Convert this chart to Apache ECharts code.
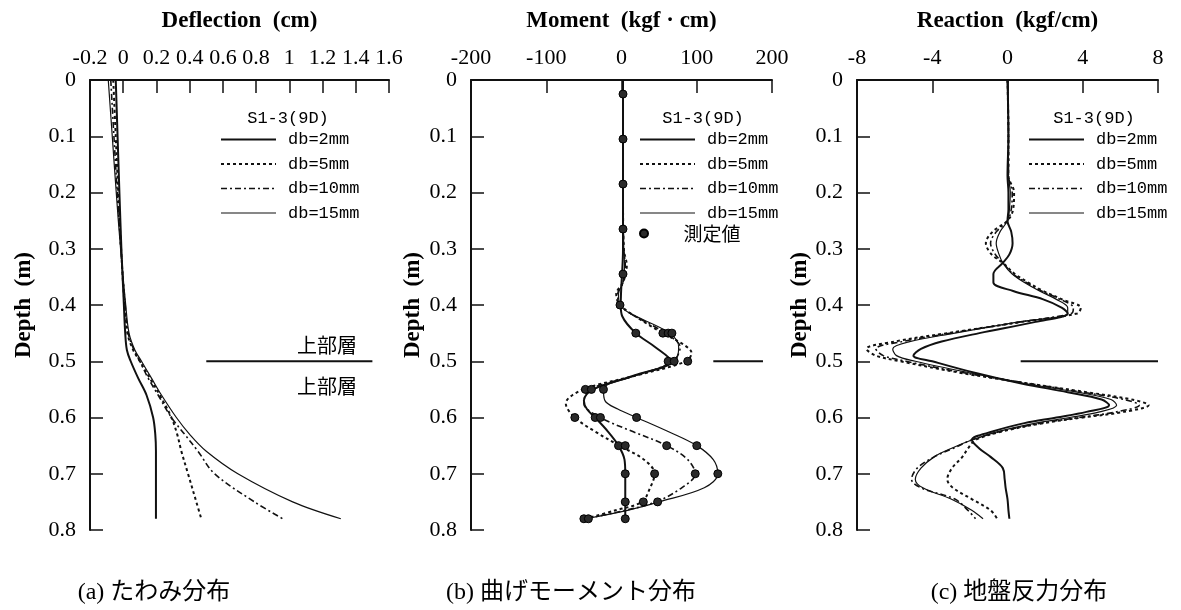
<!DOCTYPE html>
<html><head><meta charset="utf-8">
<script src="https://cdn.jsdelivr.net/npm/echarts@6/dist/echarts.min.js"></script>
<style>html,body{margin:0;padding:0;background:#fff}#c{width:1181px;height:610px}</style>
</head><body><div id="c"></div>
<script>
// ---------- common ----------
const seriesNames = ['db=2mm', 'db=5mm', 'db=10mm', 'db=15mm'];
const depthTicks = [0, 0.1, 0.2, 0.3, 0.4, 0.5, 0.6, 0.7, 0.8];

// ---------- (a) deflection (cm) ----------
const defDepth = [0, 0.1, 0.2, 0.3, 0.4, 0.45, 0.48, 0.5, 0.53, 0.56, 0.6, 0.63, 0.66, 0.7, 0.75, 0.78];
const def2  = [-0.045, -0.034, -0.023, -0.011, 0.004, 0.012, 0.022, 0.045, 0.09, 0.14, 0.18, 0.193, 0.197, 0.197, 0.197, 0.197];
const def5  = [-0.06, -0.045, -0.03, -0.013, 0.008, 0.025, 0.06, 0.1, 0.16, 0.22, 0.29, 0.325, 0.35, 0.39, 0.44, 0.47];
const def10 = [-0.075, -0.056, -0.036, -0.014, 0.012, 0.03, 0.065, 0.1, 0.15, 0.21, 0.29, 0.37, 0.45, 0.55, 0.79, 0.96];
const def15 = [-0.09, -0.066, -0.042, -0.016, 0.015, 0.035, 0.07, 0.11, 0.17, 0.23, 0.32, 0.4, 0.5, 0.69, 1.02, 1.31];

// ---------- (b) moment (kgf·cm) ----------
const momDepth2  = [0, 0.1, 0.2, 0.3, 0.4, 0.42, 0.45, 0.475, 0.5, 0.525, 0.55, 0.57, 0.585, 0.6, 0.625, 0.65, 0.675, 0.7, 0.75, 0.78];
const mom2       = [2, 2, 2, 2, -1, 1, 19, 45, 66, 18, -38, -50, -46, -35, -18, -4, 4, 5, 5, 5];
const momDepth5  = [0, 0.1, 0.2, 0.3, 0.33, 0.36, 0.38, 0.4, 0.43, 0.45, 0.47, 0.485, 0.5, 0.525, 0.545, 0.56, 0.575, 0.6, 0.625, 0.65, 0.675, 0.7, 0.725, 0.75, 0.765, 0.78];
const mom5       = [2, 2, 2, 3, 7, 2, -7, -2, 30, 55, 82, 93, 86, 20, -40, -65, -74, -62, -35, -3, 30, 44, 38, 27, -8, -48];
const momDepth10 = [0, 0.1, 0.2, 0.3, 0.33, 0.36, 0.38, 0.4, 0.45, 0.475, 0.5, 0.525, 0.55, 0.575, 0.6, 0.625, 0.65, 0.675, 0.7, 0.725, 0.75, 0.765, 0.78];
const mom10      = [2, 2, 2, 3, 5, 2, -5, -2, 58, 78, 68, 20, -42, -50, -28, 15, 60, 88, 98, 80, 46, 5, -48];
const momDepth15 = [0, 0.1, 0.2, 0.3, 0.33, 0.36, 0.38, 0.4, 0.45, 0.475, 0.5, 0.525, 0.55, 0.57, 0.585, 0.6, 0.625, 0.65, 0.675, 0.7, 0.725, 0.75, 0.765, 0.78];
const mom15      = [2, 2, 2, 3, 4, 2, -4, -2, 64, 76, 70, 20, -24, -22, -5, 20, 62, 100, 122, 128, 110, 50, 8, -48];
// measured values (測定値)
const measDepth = [0.025, 0.105, 0.185, 0.265, 0.345, 0.4, 0.45, 0.45, 0.45, 0.45, 0.5, 0.5, 0.5, 0.55, 0.55, 0.55, 0.6, 0.6, 0.6, 0.6, 0.65, 0.65, 0.65, 0.65, 0.7, 0.7, 0.7, 0.7, 0.75, 0.75, 0.75, 0.78, 0.78, 0.78];
const measMom   = [2, 2, 2, 2, 2, -2, 19, 55, 62, 67, 62, 70, 88, -48, -40, -24, -62, -35, -28, 20, -4, 5, 60, 100, 5, 44, 98, 128, 5, 29, 48, -50, -44, 5];

// ---------- (c) reaction (kgf/cm) ----------
const reaDepth = [0, 0.1, 0.17, 0.2, 0.23, 0.25, 0.27, 0.29, 0.31, 0.325, 0.345, 0.36, 0.375, 0.39, 0.405, 0.415, 0.43, 0.45, 0.465, 0.478, 0.49, 0.5, 0.52, 0.54, 0.555, 0.568, 0.578, 0.59, 0.6, 0.61, 0.625, 0.64, 0.655, 0.67, 0.69, 0.71, 0.725, 0.745, 0.765, 0.78];
const rea2  = [0, 0.05, 0, 0.05, 0.05, 0, 0.2, 0.27, 0.1, -0.25, -0.75, -0.75, 0.3, 1.9, 2.9, 3.2, 1.5, -1.5, -3.5, -4.6, -5.0, -4.0, -1.8, 0.8, 3.2, 5.0, 5.4, 4.2, 2.6, 0.9, -0.8, -1.9, -1.5, -0.9, -0.25, -0.15, -0.1, 0, 0.05, 0.1];
const rea5  = [0, 0.05, 0.05, 0.35, 0.3, 0, -0.8, -1.15, -0.85, -0.25, 0.4, 1.1, 1.9, 2.9, 3.9, 3.7, 0.8, -3.2, -6.0, -7.5, -7.0, -5.7, -2.6, 1.2, 4.2, 6.6, 7.5, 6.2, 4.0, 1.9, -0.3, -1.7, -2.1, -2.4, -2.95, -3.2, -2.9, -1.9, -0.9, -0.55];
const rea10 = [0, 0.05, 0.05, 0.25, 0.2, 0, -0.6, -0.9, -0.65, -0.25, 0.3, 1.0, 1.8, 2.8, 3.5, 3.4, 0.7, -3.0, -5.6, -7.0, -6.6, -5.4, -2.4, 1.2, 4.0, 6.2, 7.0, 5.8, 3.8, 1.8, -0.4, -1.9, -2.9, -3.9, -4.8, -5.1, -4.6, -2.8, -2.1, -1.7];
const rea15 = [0, 0.05, 0.05, 0.15, 0.1, 0, -0.4, -0.6, -0.45, -0.25, 0.25, 0.9, 1.7, 2.6, 3.2, 3.2, 0.6, -2.8, -5.2, -6.1, -5.9, -4.9, -2.1, 1.0, 3.7, 5.5, 5.8, 4.9, 3.3, 1.5, -0.5, -1.9, -3.0, -3.9, -4.6, -4.9, -4.5, -3.0, -1.9, -1.3];

// layer boundary (depth 0.5)
const boundaryDepth = 0.5;
const boundaryA = [0.5, 1.5];
const boundaryB = [122, 188];
const boundaryC = [0.7, 8];

// ---------- build ----------
const pairs = (xs, ds) => xs.map((v, i) => [v, ds[i]]);
const lineStyles = {
  'db=2mm':  { type: 'solid', width: 2 },
  'db=5mm':  { type: [3, 3], width: 2 },
  'db=10mm': { type: [6, 3, 2, 3], width: 1.6 },
  'db=15mm': { type: 'solid', width: 1.2 }
};
const INK = '#111';
const serif = '"Liberation Serif", "DejaVu Serif", serif';
const mono = '"Liberation Mono", "DejaVu Sans Mono", monospace';
const cjk = '"Liberation Serif", "Noto Sans CJK JP", sans-serif';

function curve(name, idx, xs, ds) {
  return {
    name, type: 'line', xAxisIndex: idx, yAxisIndex: idx,
    data: pairs(xs, ds), symbol: 'none', smooth: 0.35,
    lineStyle: Object.assign({ color: INK }, lineStyles[name]),
    itemStyle: { color: INK }, silent: true, z: 3
  };
}
function boundary(idx, xs) {
  return {
    name: 'boundary', type: 'line', xAxisIndex: idx, yAxisIndex: idx,
    data: xs.map(v => [v, boundaryDepth]), symbol: 'none',
    lineStyle: { color: INK, width: 2 }, silent: true
  };
}

const grids = [
  { left: 90, top: 80, width: 299, height: 450 },
  { left: 471, top: 80, width: 301, height: 450 },
  { left: 857, top: 80, width: 301, height: 450 }
];
const xDefs = [
  { min: -0.2, max: 1.6, interval: 0.2, name: 'Deflection  (cm)' },
  { min: -200, max: 200, interval: 100, name: 'Moment  (kgf · cm)' },
  { min: -8, max: 8, interval: 4, name: 'Reaction  (kgf/cm)' }
];
const yNameGaps = [54, 46, 44];

const xAxes = xDefs.map((d, i) => ({
  type: 'value', gridIndex: i, position: 'top', min: d.min, max: d.max, interval: d.interval,
  name: d.name, nameLocation: 'middle', nameGap: 47,
  nameTextStyle: { fontFamily: serif, fontWeight: 'bold', fontSize: 23, color: '#000' },
  axisLine: { show: true, onZero: false, lineStyle: { color: INK, width: 2 } },
  axisTick: { show: true, inside: true, length: 13, lineStyle: { color: INK, width: 1.5 } },
  axisLabel: { fontFamily: serif, fontSize: 22, color: '#000', margin: 11 },
  splitLine: { show: false }
}));
const yAxes = [0, 1, 2].map(i => ({
  type: 'value', gridIndex: i, inverse: true, min: 0, max: 0.8, interval: 0.1,
  name: 'Depth  (m)', nameLocation: 'middle', nameGap: yNameGaps[i], nameRotate: 90,
  nameTextStyle: { fontFamily: serif, fontWeight: 'bold', fontSize: 23, color: '#000' },
  axisLine: { show: true, onZero: false, lineStyle: { color: INK, width: 2 } },
  axisTick: { show: true, inside: true, length: 13, lineStyle: { color: INK, width: 1.5 } },
  axisLabel: { fontFamily: serif, fontSize: 22, color: '#000', margin: 14 },
  splitLine: { show: false }
}));

const series = [
  curve('db=2mm', 0, def2, defDepth),
  curve('db=5mm', 0, def5, defDepth),
  curve('db=10mm', 0, def10, defDepth),
  curve('db=15mm', 0, def15, defDepth),
  boundary(0, boundaryA),
  curve('db=2mm', 1, mom2, momDepth2),
  curve('db=5mm', 1, mom5, momDepth5),
  curve('db=10mm', 1, mom10, momDepth10),
  curve('db=15mm', 1, mom15, momDepth15),
  {
    name: '測定値', type: 'scatter', xAxisIndex: 1, yAxisIndex: 1,
    data: pairs(measMom, measDepth), symbol: 'circle', symbolSize: 8,
    itemStyle: { color: '#2a2a2a', borderColor: '#000', borderWidth: 1, opacity: 1 }, z: 5, silent: true
  },
  boundary(1, boundaryB),
  curve('db=2mm', 2, rea2, reaDepth),
  curve('db=5mm', 2, rea5, reaDepth),
  curve('db=10mm', 2, rea10, reaDepth),
  curve('db=15mm', 2, rea15, reaDepth),
  boundary(2, boundaryC)
];

function legendAt(left, top, names, opts) {
  return Object.assign({
    data: names, left, top, orient: 'vertical', padding: 0,
    itemWidth: 55, itemHeight: 14, itemGap: 7.5, selectedMode: false,
    textStyle: { fontFamily: mono, fontSize: 17, color: '#000', padding: [0, 0, 0, 7] },
    itemStyle: { color: 'rgba(0,0,0,0)', borderWidth: 0 },
    lineStyle: { width: 'inherit', type: 'inherit' }
  }, opts || {});
}
const legends = [
  legendAt(220, 131, seriesNames),
  legendAt(639, 131, seriesNames),
  legendAt(639, 224, ['測定値'], {
    itemHeight: 8,
    textStyle: { fontFamily: '"Noto Sans CJK JP", sans-serif', fontSize: 19, color: '#000', padding: [0, 0, 0, 7] },
    itemStyle: {}
  }),
  legendAt(1028, 131, seriesNames)
];

function txt(x, y, text, size, family, weight) {
  return { type: 'text', x, y, silent: true,
    style: { text, fontSize: size, fontFamily: family, fontWeight: weight || 'normal', fill: '#000', align: 'center', verticalAlign: 'middle' } };
}
const graphics = [
  txt(288, 118, 'S1-3(9D)', 17, mono),
  txt(703, 118, 'S1-3(9D)', 17, mono),
  txt(1094, 118, 'S1-3(9D)', 17, mono),
  txt(327, 345, '上部層', 20, '"Noto Sans CJK JP", sans-serif'),
  txt(327, 386, '上部層', 20, '"Noto Sans CJK JP", sans-serif'),
  txt(154, 593, '(a) たわみ分布', 24, cjk),
  txt(571, 593, '(b) 曲げモーメント分布', 24, cjk),
  txt(1019, 593, '(c) 地盤反力分布', 24, cjk)
];

const chart = echarts.init(document.getElementById('c'), null, { renderer: 'canvas' });
chart.setOption({
  backgroundColor: '#fff',
  animation: false,
  grid: grids,
  xAxis: xAxes,
  yAxis: yAxes,
  legend: legends,
  graphic: graphics,
  series
});
</script></body></html>
